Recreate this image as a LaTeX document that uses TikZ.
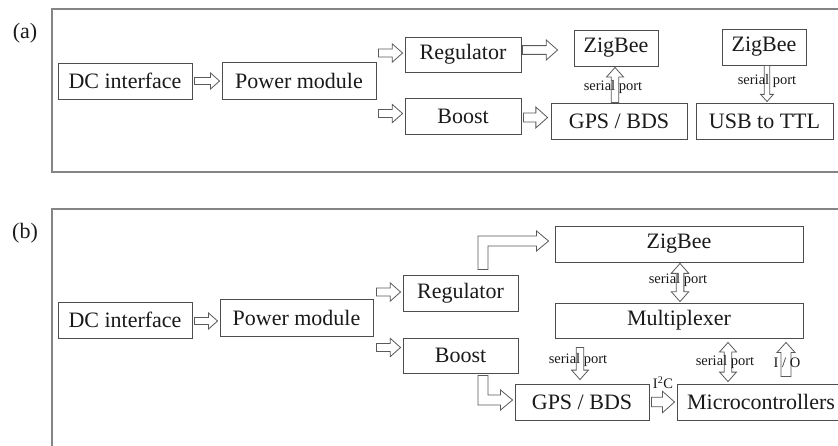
\documentclass[tikz,border=0pt]{standalone}
\usepackage{fontspec}
\setmainfont{Liberation Serif}
\usetikzlibrary{calc}
\definecolor{boxc}{HTML}{4D4D4D}
\definecolor{framec}{HTML}{858585}
\definecolor{arrc}{HTML}{5A5A5A}
\definecolor{txtc}{HTML}{1A1A1A}
\tikzset{
  box/.style={draw=boxc, line width=0.9pt, inner sep=0pt, minimum height=36pt, text=txtc, font=\fontsize{22}{26}\selectfont},
  frame/.style={draw=framec, line width=1.3pt},
  arr/.style={draw=arrc, line width=0.8pt, fill=white, line join=miter},
  lbl/.style={text=txtc, inner sep=0pt, font=\fontsize{14.5}{16}\selectfont},
  tag/.style={text=txtc, inner sep=0pt, font=\fontsize{22}{26}\selectfont}
}
% horizontal block arrow: [scale]{start}{tip}
\newcommand\harr[3][1]{\draw[arr] let \p1=(#2), \p2=(#3), \n1={sign(\x2-\x1)} in
 ({\x1},{\y1+#1*3.5pt}) -- ({\x2-(\n1)*#1*9pt},{\y1+#1*3.5pt}) -- ({\x2-(\n1)*#1*9pt},{\y1+#1*8pt}) -- ({\x2},{\y1})
 -- ({\x2-(\n1)*#1*9pt},{\y1-#1*8pt}) -- ({\x2-(\n1)*#1*9pt},{\y1-#1*3.5pt}) -- ({\x1},{\y1-#1*3.5pt}) -- cycle;}
% vertical block arrow: [scale]{start}{tip}
\newcommand\varr[3][1]{\draw[arr] let \p1=(#2), \p2=(#3), \n1={sign(\y2-\y1)} in
 ({\x1-#1*3.5pt},{\y1}) -- ({\x1-#1*3.5pt},{\y2-(\n1)*#1*9pt}) -- ({\x1-#1*8pt},{\y2-(\n1)*#1*9pt}) -- ({\x1},{\y2})
 -- ({\x1+#1*8pt},{\y2-(\n1)*#1*9pt}) -- ({\x1+#1*3.5pt},{\y2-(\n1)*#1*9pt}) -- ({\x1+#1*3.5pt},{\y1}) -- cycle;}
% vertical double-headed block arrow
\newcommand\vboth[3][1]{\draw[arr] let \p1=(#2), \p2=(#3), \n1={sign(\y2-\y1)} in
 ({\x1},{\y1}) -- ({\x1+#1*8pt},{\y1+(\n1)*#1*9pt}) -- ({\x1+#1*3.5pt},{\y1+(\n1)*#1*9pt}) -- ({\x1+#1*3.5pt},{\y2-(\n1)*#1*9pt})
 -- ({\x1+#1*8pt},{\y2-(\n1)*#1*9pt}) -- ({\x1},{\y2}) -- ({\x1-#1*8pt},{\y2-(\n1)*#1*9pt}) -- ({\x1-#1*3.5pt},{\y2-(\n1)*#1*9pt})
 -- ({\x1-#1*3.5pt},{\y1+(\n1)*#1*9pt}) -- ({\x1-#1*8pt},{\y1+(\n1)*#1*9pt}) -- cycle;}
% elbow arrow: vertical from start, then horizontal to tip
\newcommand\elarr[2]{\draw[arr] let \p1=(#1), \p2=(#2), \n1={sign(\y2-\y1)} in
 ({\x1-5pt},{\y1}) -- ({\x1-5pt},{\y2+(\n1)*5pt}) -- ({\x2-12pt},{\y2+(\n1)*5pt}) -- ({\x2-12pt},{\y2+(\n1)*10pt}) -- ({\x2},{\y2})
 -- ({\x2-12pt},{\y2-(\n1)*10pt}) -- ({\x2-12pt},{\y2-(\n1)*5pt}) -- ({\x1+5pt},{\y2-(\n1)*5pt}) -- ({\x1+5pt},{\y1}) -- cycle;}
% wide-shaft vertical arrow (I/O)
\newcommand\varrw[2]{\draw[arr] let \p1=(#1), \p2=(#2), \n1={sign(\y2-\y1)} in
 ({\x1-5pt},{\y1}) -- ({\x1-5pt},{\y2-(\n1)*10pt}) -- ({\x1-9pt},{\y2-(\n1)*10pt}) -- ({\x1},{\y2})
 -- ({\x1+9pt},{\y2-(\n1)*10pt}) -- ({\x1+5pt},{\y2-(\n1)*10pt}) -- ({\x1+5pt},{\y1}) -- cycle;}

\begin{document}
\begin{tikzpicture}[x=1pt, y=-1pt]
\useasboundingbox (0,0) rectangle (838,445);
\clip (0,0) rectangle (838,445);
\fill[white] (0,0) rectangle (838,445);

% ---------- panel (a) ----------
\draw[frame] (52,9) rectangle (860,172);
\node[tag] (tagA) at (25,33) {(a)};

\node[box, minimum width=134pt] (dcA) at (125,81) {DC interface};
\node[box, minimum width=154pt, minimum height=37pt] (pmA) at (299,80.5) {Power module};
\node[box, minimum width=116pt, minimum height=35pt] (regA) at (463,54.5) {Regulator};
\node[box, minimum width=116pt] (boostA) at (463,116) {Boost};
\node[box, minimum width=84pt] (zbA) at (616,48) {ZigBee};
\node[box, minimum width=136pt] (gpsA) at (619,121) {GPS / BDS};
\node[box, minimum width=84pt] (zbA2) at (764,47) {ZigBee};
\node[box, minimum width=137pt] (usbA) at (764.5,121) {USB to TTL};

\harr{$(dcA.east)+(2,0)$}{$(pmA.west)+(-2,0)$}
\harr[1.15]{$(pmA.east |- regA.west)+(2,-1.5)$}{$(regA.west)+(-2,0)$}
\harr[1.15]{$(pmA.east |- boostA.west)+(2,-2.5)$}{$(boostA.west)+(-2,0)$}
\harr[1.25]{$(regA.east)+(1,-4.5)$}{$(zbA.west)+(-16,0)$}
\harr[1.3]{$(boostA.east)+(2,1.5)$}{$(gpsA.west)+(-3,0)$}
\varr[1.05]{$(gpsA.north)+(-4,0)$}{$(zbA.south)+(0,1)$}
\node[lbl] (spA1) at (613,87) {serial port};
\varr[0.8]{$(zbA2.south)+(3,0)$}{$(usbA.north)+(0,-1)$}
\node[lbl] (spA2) at (767,81) {serial port};

% ---------- panel (b) ----------
\draw[frame] (52,209) rectangle (860,470);
\node[tag] (tagB) at (25,233) {(b)};

\node[box, minimum width=134pt] (dcB) at (125,320) {DC interface};
\node[box, minimum width=153pt, minimum height=37pt] (pmB) at (296.5,317.5) {Power module};
\node[box, minimum width=115pt] (regB) at (460.5,293) {Regulator};
\node[box, minimum width=115pt, minimum height=35pt] (boostB) at (460.5,355.5) {Boost};
\node[box, minimum width=248pt] (zbB) at (679,244) {ZigBee};
\node[box, minimum width=248pt, minimum height=35pt] (muxB) at (679,320.5) {Multiplexer};
\node[box, minimum width=134pt] (gpsB) at (582,402) {GPS / BDS};
\node[box, minimum width=168pt] (mcB) at (761,402) {Microcontrollers};

\harr{$(dcB.east)+(2,1)$}{$(pmB.west)+(-2,0)$}
\harr[1.15]{$(pmB.east |- regB.west)+(3,-1)$}{$(regB.west)+(-2,0)$}
\harr[1.15]{$(pmB.east |- boostB.west)+(3,-8)$}{$(boostB.west)+(-2,0)$}
\elarr{$(regB.north)+(22.5,-5)$}{$(zbB.west)+(-6,-3)$}
\elarr{$(boostB.south)+(22.5,2)$}{$(gpsB.west)+(-2,-2)$}
\vboth[1.1]{$(zbB.south)+(1,1)$}{$(muxB.north)+(1,-1)$}
\node[lbl] (spB1) at (678,280) {serial port};
\varr[1.05]{$(muxB.south)+(-99,9)$}{$(gpsB.north)+(0,-4)$}
\node[lbl] (spB2) at (578,360) {serial port};
\vboth[1.05]{$(muxB.south)+(49,4)$}{$(mcB.north)+(0,-2)$}
\node[lbl] (spB3) at (725,362) {serial port};
\varrw{$(mcB.north)+(25,-7)$}{$(muxB.south)+(0,4)$}
\node[lbl] (io) at (787,363) {I / O};
\harr[1.35]{$(gpsB.east)+(2,0)$}{$(mcB.west)+(-2,0)$}
\node[lbl] (i2c) at (663,383) {I\textsuperscript{2}C};
\end{tikzpicture}
\end{document}
